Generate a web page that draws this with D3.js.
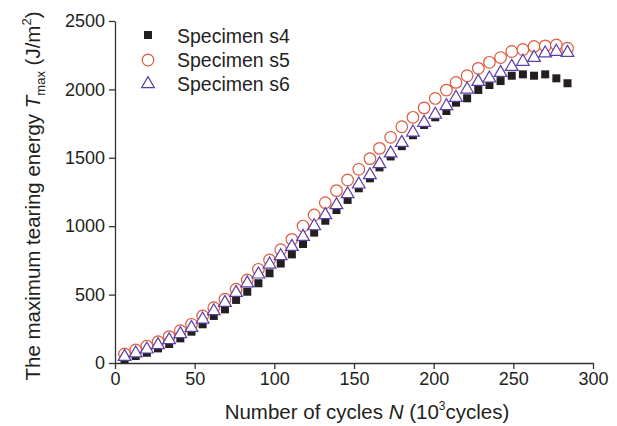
<!DOCTYPE html>
<html>
<head>
<meta charset="utf-8">
<script src="https://cdn.jsdelivr.net/npm/d3@7"></script>
<style>
  body { margin: 0; background: #fff; }
  text { font-family: Arial, "Liberation Sans", sans-serif; fill: #231f20; }
</style>
</head>
<body>
<div id="chart"></div>
<script>
// cycles (10^3)
const cycles = [6, 13, 20, 27, 34, 41, 48, 55, 62, 69, 76, 83, 90, 97, 104, 111, 118, 125, 132, 139,
  146, 153, 160, 166, 173, 180, 187, 194, 201, 208, 214, 221, 228, 235, 242, 249, 256, 263, 270, 277, 284];

const s4 = [27, 51, 75, 107, 139, 180, 229, 283, 344, 392, 461, 521, 583, 656, 727, 794, 870, 953, 1040, 1118,
  1192, 1277, 1350, 1430, 1510, 1585, 1665, 1740, 1796, 1842, 1903, 1935, 1996, 2032, 2061, 2100, 2110, 2100, 2110, 2081, 2045];

const s5 = [66, 95, 124, 156, 193, 236, 283, 344, 404, 466, 539, 607, 685, 753, 828, 904, 1001, 1082, 1172, 1260,
  1338, 1416, 1494, 1569, 1650, 1727, 1796, 1865, 1934, 1995, 2051, 2100, 2154, 2198, 2233, 2277, 2292, 2314, 2318, 2325, 2301];

const s6 = [46, 71, 100, 132, 168, 212, 258, 319, 380, 441, 514, 583, 648, 721, 782, 850, 923, 1001, 1082, 1155,
  1235, 1306, 1374, 1455, 1533, 1610, 1686, 1757, 1816, 1879, 1940, 2000, 2056, 2081, 2122, 2166, 2203, 2232, 2264, 2276, 2268];

const xTicks = [0, 50, 100, 150, 200, 250, 300];
const yTicks = [0, 500, 1000, 1500, 2000, 2500];
const legendNames = ["Specimen s4", "Specimen s5", "Specimen s6"];

let width = 617, height = 426;

let svg = d3.select("#chart")
    .append("svg")
    .attr("width", width)
    .attr("height", height);

let x = d3.scaleLinear()
    .domain([0, 300])
    .range([115, 593]);

let y = d3.scaleLinear()
    .domain([0, 2500])
    .range([363, 21]);

let axisColor = "#333";

//x axis
let gx = svg.append("g")
    .attr("transform", `translate(0, ${y(0)})`)
    .call(d3.axisBottom(x).tickValues(xTicks).tickFormat(d3.format("d"))
        .tickSize(6).tickSizeOuter(0).tickPadding(3));

//y axis
let gy = svg.append("g")
    .attr("transform", `translate(${x(0)}, 0)`)
    .call(d3.axisLeft(y).tickValues(yTicks).tickFormat(d3.format("d"))
        .tickSize(6).tickSizeOuter(0).tickPadding(4));

[gx, gy].forEach(g => {
    g.selectAll("path, line").attr("stroke", axisColor).attr("stroke-width", 1.3);
    g.selectAll("text")
        .attr("font-size", 18)
        .attr("font-family", "Arial, 'Liberation Sans', sans-serif")
        .attr("fill", "#231f20");
});

//x axis label
let xl = svg.append("text")
    .attr("text-anchor", "middle")
    .attr("font-size", 20.5)
    .attr("x", 367)
    .attr("y", 419);
xl.append("tspan").text("Number of cycles ");
xl.append("tspan").attr("font-style", "italic").text("N");
xl.append("tspan").text(" (10");
xl.append("tspan").attr("font-size", 12).attr("dy", -9).text("3");
xl.append("tspan").attr("dy", 9).text("cycles)");

//y axis label
let yl = svg.append("text")
    .attr("text-anchor", "middle")
    .attr("font-size", 20.5)
    .attr("transform", "translate(40, 196) rotate(-90)");
yl.append("tspan").text("The maximum tearing energy ");
yl.append("tspan").attr("font-style", "italic").text("T");
yl.append("tspan").attr("font-size", 13).attr("dy", 5).text("max");
yl.append("tspan").attr("dy", -5).text(" (J/m");
yl.append("tspan").attr("font-size", 13).attr("dy", -9).text("2");
yl.append("tspan").attr("dy", 9).text(")");

let circleColor = "#de5a3c";
let triColor = "#5b3ea6";
let sqColor = "#231f20";

let rows = cycles.map((c, i) => ({c: c, s4: s4[i], s5: s5[i], s6: s6[i]}));

//circles - s5
svg.append("g")
    .selectAll("circle")
    .data(rows)
    .join("circle")
    .attr("cx", d => x(d.c))
    .attr("cy", d => y(d.s5))
    .attr("r", 5.8)
    .attr("fill", "white")
    .attr("stroke", circleColor)
    .attr("stroke-width", 1.2);

//squares - s4
svg.append("g")
    .selectAll("rect")
    .data(rows)
    .join("rect")
    .attr("x", d => x(d.c) - 4)
    .attr("y", d => y(d.s4) - 4)
    .attr("width", 8)
    .attr("height", 8)
    .attr("fill", sqColor);

//triangles - s6
let tri = d3.symbol().type(d3.symbolTriangle).size(70);
svg.append("g")
    .selectAll("path")
    .data(rows)
    .join("path")
    .attr("d", tri)
    .attr("transform", d => `translate(${x(d.c)}, ${y(d.s6)})`)
    .attr("fill", "white")
    .attr("stroke", triColor)
    .attr("stroke-width", 1.2);

//legend
let lg = svg.append("g");
lg.append("rect")
    .attr("x", 144).attr("y", 31)
    .attr("width", 8).attr("height", 8)
    .attr("fill", sqColor);
lg.append("circle")
    .attr("cx", 148).attr("cy", 60).attr("r", 5.8)
    .attr("fill", "white").attr("stroke", circleColor).attr("stroke-width", 1.2);
lg.append("path")
    .attr("d", tri)
    .attr("transform", "translate(148, 84)")
    .attr("fill", "white").attr("stroke", triColor).attr("stroke-width", 1.2);

lg.selectAll("mylegendlabels")
    .data(legendNames)
    .enter()
    .append("text")
    .attr("x", 177)
    .attr("y", (d, i) => 36 + i * 24)
    .attr("dy", "0.35em")
    .attr("font-size", 19.5)
    .text(d => d);
</script>
</body>
</html>
